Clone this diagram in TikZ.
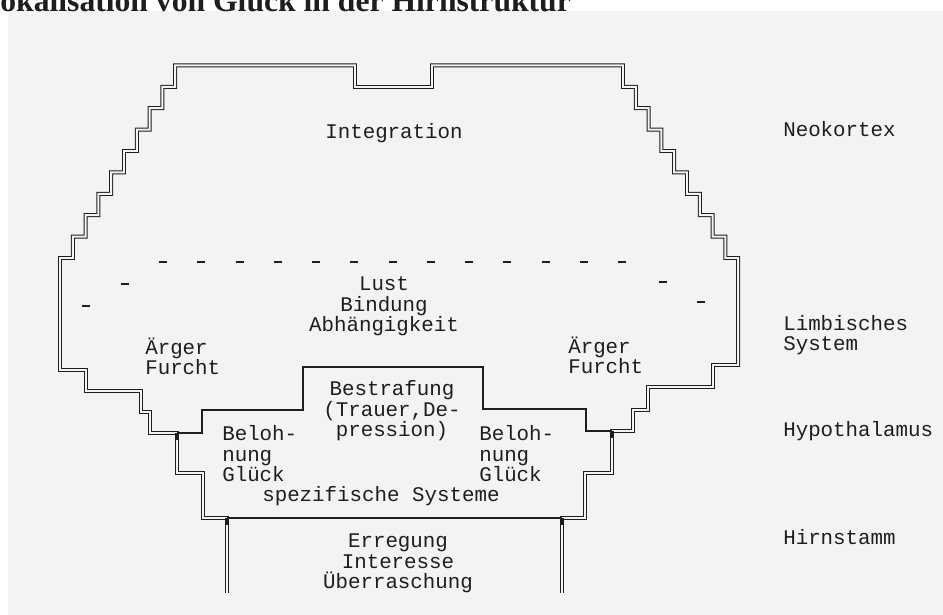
\documentclass[tikz,border=0pt]{standalone}
\usepackage{fontspec}
\setmainfont{Liberation Serif}
\setmonofont{Liberation Mono}
\usepackage{tikz}
\definecolor{ink}{HTML}{1E1E1E}
\definecolor{scan}{HTML}{F3F3F3}
\newcommand{\tw}{\ttfamily\fontsize{14.8}{14.9}\selectfont\lineskiplimit=-20pt}

\begin{document}
\begin{tikzpicture}[x=0.025cm,y=-0.025cm,text=ink,
  wall/.style={draw=ink,line width=0.7pt,double=scan,double distance=1.4pt,line join=miter},
  seam/.style={draw=ink,line width=0.9pt},
  hyph/.style={draw=ink,line width=1.3pt},
  txt/.style={font=\tw,inner sep=0pt},
  lvl/.style={txt,anchor=base west,align=left}]

\useasboundingbox (0,0) rectangle (943,615);
\fill[scan] (8,11) rectangle (943,615);

% ---------- title, cut by the scan ----------
\node[font=\bfseries\fontsize{22.5}{24}\selectfont,anchor=base west,inner sep=0pt] (title) at (-21,12)
  {Lokalisation von Glück in der Hirnstruktur};

% ---------- outer wall: stems, steps, cortex ----------
\draw[wall] (227,593) -- (227,518) -- (203,518) -- (203,473) -- (177,473) -- (177,433)
  -- (150,433) -- (150,412) -- (141,412) -- (141,391) -- (86,391) -- (86,370) -- (60,370) -- (60,258)
  \foreach \k in {1,...,9} { -| (60+12.8*\k,258-21.4*\k) }
  -- (355,65.4) -- (355,87) -- (432,87) -- (432,65.4) -- (623,65.4)
  \foreach \k in {1,...,9} { |- (623+12.8*\k,65.4+21.4*\k) }
  -- (738.2,365) -- (713,365) -- (713,387) -- (648,387) -- (648,410) -- (633,410) -- (633,431)
  -- (612,431) -- (612,473) -- (585,473) -- (585,518) -- (562,518) -- (562,593);

% ---------- inner seams ----------
\draw[seam] (177,433) -- (202,433) -- (202,410) -- (303,410) -- (303,367) -- (483,367)
  -- (483,409) -- (586,409) -- (586,431) -- (612,431);
\draw[seam] (227,518) -- (562,518);
\foreach \a/\b in {177/433,612/431,227/518,562/518}
  \fill[ink] (\a-1.6,\b) rectangle (\a+1.6,\b+7);

% ---------- typed dashes ----------
\foreach \i in {0,...,12} \draw[hyph] (159+38.25*\i,262) -- ++(8,0);
\foreach \a/\b in {125/284,86/306,663/282,701/302} \draw[hyph] (\a-4,\b) -- ++(8,0);

% ---------- inside texts (base = last line) ----------
\node[txt,anchor=base] (integ) at (394,139) {Integration};
\node[txt,anchor=base,align=center] (lust) at (384,332) {Lust\\Bindung\\Abhängigkeit};
\node[txt,anchor=base west,align=left] (angerL) at (145,375) {Ärger\\Furcht};
\node[txt,anchor=base west,align=left] (angerR) at (568,374) {Ärger\\Furcht};
\node[txt,anchor=base,align=center] (punish) at (392,437) {Bestrafung\\(Trauer,De-\\pression)};
\node[txt,anchor=base west,align=left] (rewardL) at (222,482) {Beloh-\\nung\\Glück};
\node[txt,anchor=base west,align=left] (rewardR) at (479,482) {Beloh-\\nung\\Glück};
\node[txt,anchor=base west] (spec) at (262,502) {spezifische Systeme};
\node[txt,anchor=base,align=center] (arousal) at (398,589) {Erregung\\Interesse\\Überraschung};

% ---------- levels ----------
\node[lvl] (neo) at (783,137) {Neokortex};
\node[lvl] (limb) at (783,351) {Limbisches\\System};
\node[lvl] (hypo) at (783,437) {Hypothalamus};
\node[lvl] (stem) at (783,545) {Hirnstamm};
\end{tikzpicture}
\end{document}
